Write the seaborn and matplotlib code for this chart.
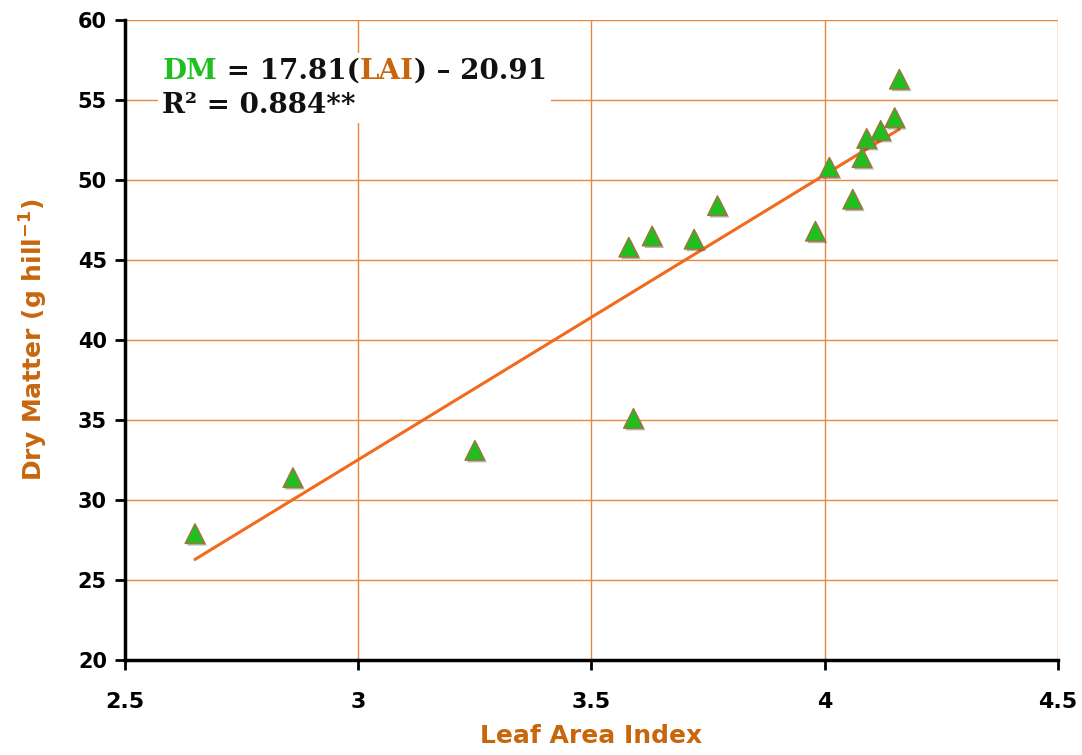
import matplotlib
matplotlib.use("Agg")
import matplotlib.pyplot as plt
import matplotlib.patheffects as pe
from matplotlib.offsetbox import TextArea, HPacker, VPacker, AnchoredOffsetbox
import numpy as np
import pandas as pd
import seaborn as sns

# Leaf area index and dry matter per hill
lai = [2.65, 2.86, 3.25, 3.59, 3.58, 3.63, 3.72, 3.77, 3.98, 4.01,
       4.06, 4.08, 4.09, 4.12, 4.15, 4.16]
dm = [27.9, 31.4, 33.1, 35.1, 45.8, 46.5, 46.3, 48.4, 46.8, 50.8,
      48.8, 51.4, 52.6, 53.1, 53.9, 56.3]

# Fitted regression
slope = 17.81
intercept = -20.91
r2 = 0.884

x_ticks = [2.5, 3, 3.5, 4, 4.5]
y_ticks = [20, 25, 30, 35, 40, 45, 50, 55, 60]

sns.set_theme(style="white")
plt.rcParams["font.family"] = ["DejaVu Sans"]

ORANGE = "#e8873e"
LABEL_ORANGE = "#c8660c"
LINE_ORANGE = "#f26a1b"
GREEN = "#1fbf1f"

df = pd.DataFrame({"LAI": lai, "DM": dm})
fit_x = np.array([min(lai), max(lai)])
fit = pd.DataFrame({"LAI": fit_x, "DM": slope * fit_x + intercept})

fig = plt.figure(figsize=(10.82, 7.55), dpi=100)
ax = fig.add_axes([0.1155, 0.1258, 0.8623, 0.8477])

sns.lineplot(data=fit, x="LAI", y="DM", ax=ax, color=LINE_ORANGE, lw=2.2, zorder=3)
sns.scatterplot(data=df, x="LAI", y="DM", ax=ax, marker="^", s=200,
                color=GREEN, edgecolor="#a87040", linewidth=1.0, zorder=4)
for coll in ax.collections:
    coll.set_path_effects([pe.SimplePatchShadow(offset=(1.5, -1.5), alpha=0.35),
                           pe.Normal()])

ax.set_xlim(2.5, 4.5)
ax.set_ylim(20, 60)
ax.set_xticks(x_ticks)
ax.set_yticks(y_ticks)
ax.set_xticklabels([f"{t:g}" for t in x_ticks])
ax.set_yticklabels([f"{t:g}" for t in y_ticks])

ax.grid(True, color=ORANGE, lw=1.0, zorder=0)
ax.set_axisbelow(True)
for s in ["top", "right"]:
    ax.spines[s].set_visible(False)
for s in ["left", "bottom"]:
    ax.spines[s].set_color("black")
    ax.spines[s].set_linewidth(2.5)
    ax.spines[s].set_zorder(5)

ax.tick_params(axis="both", direction="out", length=7, width=2, color="black",
               left=True, bottom=True)
ax.tick_params(axis="y", pad=6)
ax.tick_params(axis="x", pad=16)
for lbl in ax.get_yticklabels():
    lbl.set_fontsize(15)
    lbl.set_fontweight("bold")
    lbl.set_color("black")
for lbl in ax.get_xticklabels():
    lbl.set_fontsize(16)
    lbl.set_fontweight("bold")
    lbl.set_color("black")

label_font = dict(family="DejaVu Sans", fontsize=18, fontweight="bold",
                  color=LABEL_ORANGE)
ax.set_xlabel("Leaf Area Index", labelpad=9, **label_font)
ax.set_ylabel("Dry Matter (g hill$^{\\mathbf{-1}}$)", labelpad=20, **label_font)

# Regression equation box
eq_props = dict(family="DejaVu Serif", fontsize=20, fontweight="bold")
line1 = HPacker(children=[
    TextArea("DM", textprops=dict(color=GREEN, **eq_props)),
    TextArea(f" = {slope:.2f}(", textprops=dict(color="#111111", **eq_props)),
    TextArea("LAI", textprops=dict(color=LABEL_ORANGE, **eq_props)),
    TextArea(f") \u2013 {abs(intercept):.2f}", textprops=dict(color="#111111", **eq_props)),
], sep=0, align="baseline")
line2 = TextArea(f"R\u00b2 = {r2:.3f}**", textprops=dict(color="#111111", **eq_props))
box = VPacker(children=[line1, line2], sep=5, align="left")
anchored = AnchoredOffsetbox(loc="upper left", child=box, pad=0.3, frameon=True,
                             bbox_to_anchor=(0.035, 0.948), bbox_transform=ax.transAxes,
                             borderpad=0)
anchored.patch.set_facecolor("white")
anchored.patch.set_edgecolor("none")
anchored.zorder = 2
ax.add_artist(anchored)

fig.savefig("out.png", dpi=100, facecolor="white")
